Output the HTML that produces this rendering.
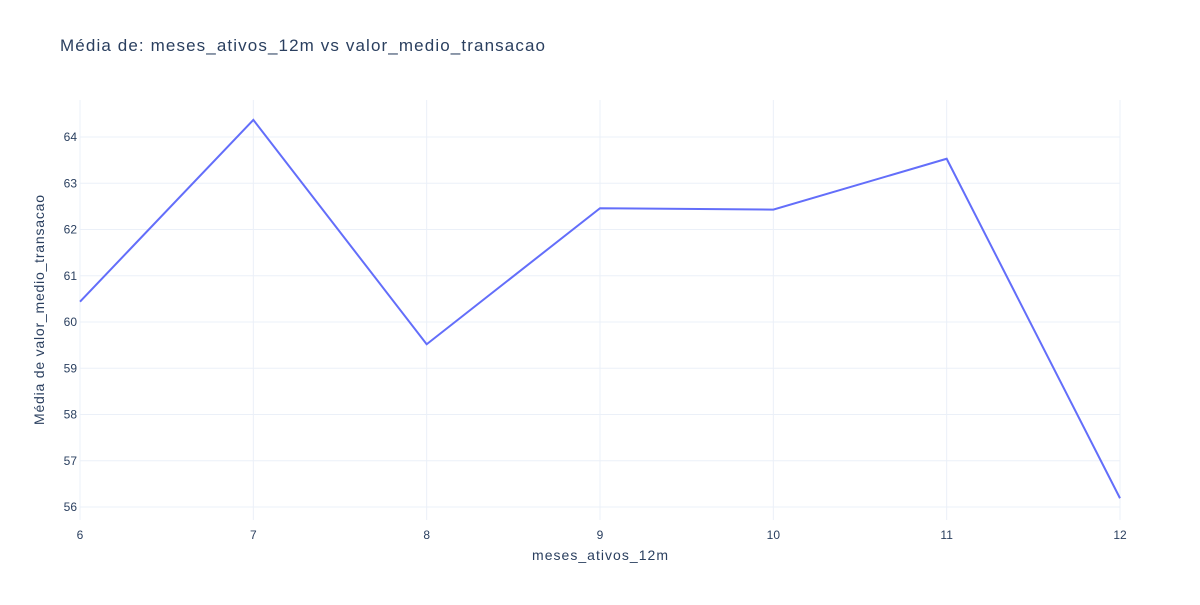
<!DOCTYPE html>
<html><head><meta charset="utf-8">
<style>
body{margin:0;background:#fff;}
svg text{font-family:"Liberation Sans",Arial,sans-serif;}
</style></head>
<body>
<svg id="chart" width="1200" height="600" xmlns="http://www.w3.org/2000/svg">
<rect width="1200" height="600" fill="#fff"/>
<text x="60" y="51" font-size="17" fill="#2a3f5f" textLength="485" lengthAdjust="spacing">Média de: meses_ativos_12m vs valor_medio_transacao</text>
<g id="grid"></g>
<g id="ticks"></g>
<path id="line" fill="none" stroke="#636efa" stroke-width="2"/>
<text x="532" y="560" font-size="14" fill="#2a3f5f" textLength="136" lengthAdjust="spacing">meses_ativos_12m</text>
<text transform="translate(44,425) rotate(-90)" font-size="14" fill="#2a3f5f" textLength="230" lengthAdjust="spacing">Média de valor_medio_transacao</text>
</svg>
<script>
const categories = [6, 7, 8, 9, 10, 11, 12];
const values = [60.44, 64.37, 59.52, 62.46, 62.43, 63.53, 56.19];
const xTicks = [6, 7, 8, 9, 10, 11, 12];
const yTicks = [56, 57, 58, 59, 60, 61, 62, 63, 64];

const L = 80, R = 1120, T = 100, B = 520;
const xMin = 6, xMax = 12, yMin = 55.72, yMax = 64.8;
const xs = v => L + (v - xMin) / (xMax - xMin) * (R - L);
const ys = v => B - (v - yMin) / (yMax - yMin) * (B - T);
const NS = "http://www.w3.org/2000/svg";
const grid = document.getElementById('grid'), ticks = document.getElementById('ticks');

yTicks.forEach(t => {
  const y = ys(t);
  const ln = document.createElementNS(NS, 'line');
  ln.setAttribute('x1', L); ln.setAttribute('x2', R); ln.setAttribute('y1', y); ln.setAttribute('y2', y);
  ln.setAttribute('stroke', '#ebf0f8'); ln.setAttribute('stroke-width', '1');
  
  
  grid.appendChild(ln);
  const tx = document.createElementNS(NS, 'text');
  tx.setAttribute('x', L - 3); tx.setAttribute('y', y + 4);
  tx.setAttribute('text-anchor', 'end'); tx.setAttribute('font-size', '12'); tx.setAttribute('fill', '#2a3f5f');
  tx.textContent = t;
  
  
  ticks.appendChild(tx);
});
xTicks.forEach(t => {
  const x = xs(t);
  const ln = document.createElementNS(NS, 'line');
  ln.setAttribute('x1', x); ln.setAttribute('x2', x); ln.setAttribute('y1', T); ln.setAttribute('y2', B);
  ln.setAttribute('stroke', '#ebf0f8'); ln.setAttribute('stroke-width', '1');
  
  
  grid.appendChild(ln);
  const tx = document.createElementNS(NS, 'text');
  tx.setAttribute('x', x); tx.setAttribute('y', B + 19);
  tx.setAttribute('text-anchor', 'middle'); tx.setAttribute('font-size', '12'); tx.setAttribute('fill', '#2a3f5f');
  tx.textContent = t;
  
  
  ticks.appendChild(tx);
});
document.getElementById('line').setAttribute('d',
  categories.map((c, i) => (i ? 'L' : 'M') + xs(c) + ',' + ys(values[i])).join(' '));
</script>
</body></html>
